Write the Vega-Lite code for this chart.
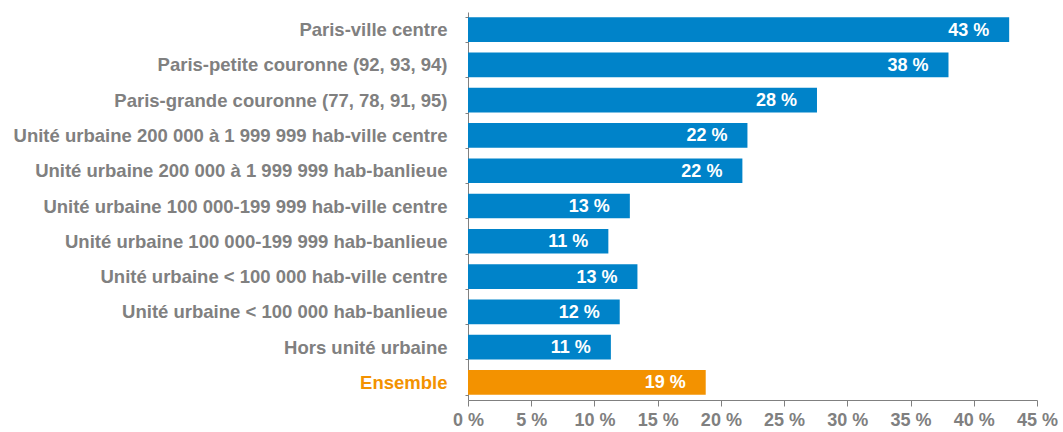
{
  "$schema": "https://vega.github.io/schema/vega-lite/v6.json",
  "width": 569,
  "height": 388,
  "autosize": "none",
  "padding": {"left": 468, "top": 12, "right": 26, "bottom": 32},
  "background": "white",
  "config": {"view": {"stroke": null}, "font": "Liberation Sans"},
  "data": {"values": [
    {"cat": "Paris-ville centre", "v": 42.8, "lab": "43 %", "g": "a"},
    {"cat": "Paris-petite couronne (92, 93, 94)", "v": 38.0, "lab": "38 %", "g": "a"},
    {"cat": "Paris-grande couronne (77, 78, 91, 95)", "v": 27.6, "lab": "28 %", "g": "a"},
    {"cat": "Unité urbaine 200 000 à 1 999 999 hab-ville centre", "v": 22.1, "lab": "22 %", "g": "a"},
    {"cat": "Unité urbaine 200 000 à 1 999 999 hab-banlieue", "v": 21.7, "lab": "22 %", "g": "a"},
    {"cat": "Unité urbaine 100 000-199 999 hab-ville centre", "v": 12.8, "lab": "13 %", "g": "a"},
    {"cat": "Unité urbaine 100 000-199 999 hab-banlieue", "v": 11.1, "lab": "11 %", "g": "a"},
    {"cat": "Unité urbaine < 100 000 hab-ville centre", "v": 13.4, "lab": "13 %", "g": "a"},
    {"cat": "Unité urbaine < 100 000 hab-banlieue", "v": 12.0, "lab": "12 %", "g": "a"},
    {"cat": "Hors unité urbaine", "v": 11.3, "lab": "11 %", "g": "a"},
    {"cat": "Ensemble", "v": 18.8, "lab": "19 %", "g": "b"}
  ]},
  "encoding": {
    "y": {
      "field": "cat", "type": "nominal", "sort": null, "title": null,
      "scale": {"paddingInner": 0.3, "paddingOuter": 0.15},
      "axis": {
        "domainColor": "#808080", "tickColor": "#808080", "tickBand": "extent", "tickSize": 3,
        "labelPadding": 18, "labelFont": "Liberation Sans", "labelFontWeight": "bold", "labelFontSize": 18.5,
        "labelColor": {"expr": "datum.value == 'Ensemble' ? '#F39200' : '#808080'"},
        "labelLimit": 500
      }
    },
    "x": {
      "field": "v", "type": "quantitative", "title": null,
      "scale": {"domain": [0, 45], "nice": false},
      "axis": {
        "values": [0, 5, 10, 15, 20, 25, 30, 35, 40, 45], "grid": false,
        "labelExpr": "datum.value + ' %'",
        "domainColor": "#808080", "tickColor": "#808080", "tickSize": 6, "labelPadding": 5,
        "labelFont": "Liberation Sans", "labelFontWeight": "bold", "labelFontSize": 18, "labelColor": "#808080",
        "labelFlush": false
      }
    }
  },
  "layer": [
    {
      "mark": {"type": "bar"},
      "encoding": {
        "color": {"field": "g", "type": "nominal", "legend": null,
          "scale": {"domain": ["a", "b"], "range": ["#0083C9", "#F39200"]}}
      }
    },
    {
      "mark": {"type": "text", "align": "right", "baseline": "middle", "dx": -20, "dy": 1, "color": "white",
        "font": "Liberation Sans", "fontWeight": "bold", "fontSize": 18},
      "encoding": {"text": {"field": "lab"}}
    }
  ]
}
